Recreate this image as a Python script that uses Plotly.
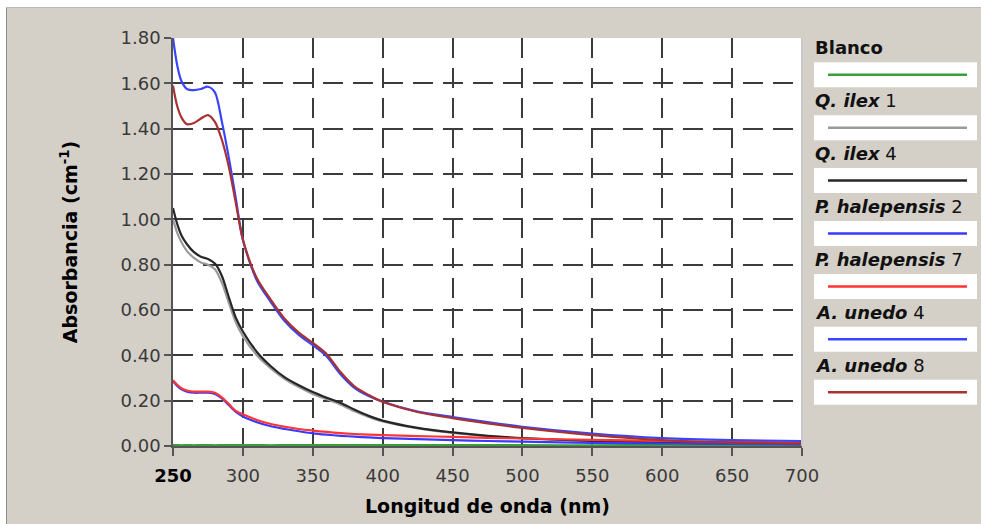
import plotly.graph_objects as go

# ---------------- data ----------------
wavelength = [250, 253, 256, 260, 265, 270, 275, 280, 285, 290, 295, 300, 310, 320, 330,
              340, 350, 360, 370, 380, 390, 400, 425, 450, 475, 500, 550, 600, 650, 700]

blanco = [0.004, 0.004, 0.003, 0.004, 0.003, 0.004, 0.004, 0.003, 0.004, 0.004, 0.004, 0.004,
          0.004, 0.003, 0.004, 0.004, 0.004, 0.004, 0.004, 0.004, 0.004, 0.004, 0.004, 0.004,
          0.004, 0.004, 0.003, 0.004, 0.004, 0.004]

q_ilex_1 = [1.00, 0.94, 0.90, 0.86, 0.83, 0.81, 0.80, 0.78, 0.72, 0.63, 0.545, 0.485, 0.40,
            0.342, 0.295, 0.26, 0.23, 0.206, 0.182, 0.153, 0.128, 0.108, 0.078, 0.058, 0.044,
            0.034, 0.021, 0.014, 0.010, 0.008]

q_ilex_4 = [1.05, 0.98, 0.93, 0.89, 0.855, 0.835, 0.825, 0.805, 0.75, 0.655, 0.565, 0.505, 0.415,
            0.352, 0.303, 0.268, 0.238, 0.213, 0.19, 0.16, 0.133, 0.112, 0.08, 0.06, 0.045, 0.035,
            0.022, 0.015, 0.010, 0.008]

p_halepensis_2 = [0.285, 0.265, 0.25, 0.24, 0.235, 0.235, 0.235, 0.23, 0.21, 0.18, 0.15, 0.13,
                  0.105, 0.087, 0.075, 0.065, 0.056, 0.05, 0.045, 0.041, 0.038, 0.035, 0.03,
                  0.026, 0.022, 0.019, 0.014, 0.011, 0.009, 0.008]

p_halepensis_7 = [0.29, 0.27, 0.255, 0.245, 0.24, 0.24, 0.24, 0.235, 0.215, 0.185, 0.155, 0.14,
                  0.115, 0.097, 0.085, 0.075, 0.068, 0.062, 0.057, 0.053, 0.05, 0.048, 0.044,
                  0.04, 0.036, 0.033, 0.027, 0.022, 0.018, 0.016]

a_unedo_4 = [1.80, 1.68, 1.61, 1.575, 1.57, 1.575, 1.585, 1.56, 1.43, 1.27, 1.09, 0.91, 0.73,
             0.635, 0.55, 0.49, 0.445, 0.395, 0.315, 0.255, 0.22, 0.195, 0.152, 0.128, 0.105,
             0.085, 0.055, 0.035, 0.026, 0.022]

a_unedo_8 = [1.59, 1.50, 1.45, 1.42, 1.425, 1.445, 1.46, 1.43, 1.35, 1.23, 1.07, 0.91, 0.74,
             0.645, 0.56, 0.50, 0.455, 0.405, 0.325, 0.262, 0.225, 0.195, 0.15, 0.123, 0.10,
             0.08, 0.048, 0.026, 0.015, 0.012]

series_names = ["Blanco", "Q. ilex 1", "Q. ilex 4", "P. halepensis 2",
                "P. halepensis 7", "A. unedo 4", "A. unedo 8"]
legend_labels = ["<b>Blanco</b>",
                 "<b><i>Q. ilex</i></b> 1",
                 "<b><i>Q. ilex</i></b> 4",
                 "<b><i>P. halepensis</i></b> 2",
                 "<b><i>P. halepensis</i></b> 7",
                 "<b><i>A. unedo</i></b> 4",
                 "<b><i>A. unedo</i></b> 8"]
series_values = [blanco, q_ilex_1, q_ilex_4, p_halepensis_2, p_halepensis_7, a_unedo_4, a_unedo_8]
series_colors = ["#3a9e3a", "#9a9a9a", "#262626", "#3a3aff", "#ff3535", "#3a44ff", "#a83232"]

x_ticks = [250, 300, 350, 400, 450, 500, 550, 600, 650, 700]
x_ticktext = ["<span style='color:#000000'><b>250</b></span>", "300", "350", "400", "450",
              "500", "550", "600", "650", "700"]
y_ticks = [0.0, 0.2, 0.4, 0.6, 0.8, 1.0, 1.2, 1.4, 1.6, 1.8]

# ---------------- layout helpers (pixel -> paper) ----------------
W, H = 981, 524
PL, PT, PW, PH = 173, 38, 629, 408


def fx(px):
    return (px - PL) / PW


def fy(py):
    return (PT + PH - py) / PH


fig = go.Figure()
for name, vals, col in zip(series_names, series_values, series_colors):
    fig.add_trace(go.Scatter(x=wavelength, y=vals, name=name, mode="lines",
                             line=dict(color=col, width=2.2, shape="spline", smoothing=0.8),
                             showlegend=False))

shapes = []
annotations = []

# window-like frame
shapes.append(dict(type="rect", xref="paper", yref="paper", x0=fx(0), x1=fx(W), y0=fy(0), y1=fy(7),
                   fillcolor="white", line=dict(width=0)))
shapes.append(dict(type="rect", xref="paper", yref="paper", x0=fx(0), x1=fx(6), y0=fy(0), y1=fy(H),
                   fillcolor="white", line=dict(width=0)))
shapes.append(dict(type="line", xref="paper", yref="paper", x0=fx(6.5), x1=fx(6.5), y0=fy(7), y1=fy(H),
                   line=dict(color="#8c8c8c", width=1)))
shapes.append(dict(type="line", xref="paper", yref="paper", x0=fx(6), x1=fx(W), y0=fy(7.5), y1=fy(7.5),
                   line=dict(color="#b8b8b8", width=1)))
# light right edge of plot area
shapes.append(dict(type="line", xref="paper", yref="paper", x0=1, x1=1, y0=0, y1=1,
                   line=dict(color="#c8c8c8", width=2)))

# custom legend: label above a white box with a line sample
step = 52.9
for i, (lab, col) in enumerate(zip(legend_labels, series_colors)):
    bc = 74.8 + step * i
    annotations.append(dict(xref="paper", yref="paper", x=fx(813), y=fy(bc - 27), xanchor="left",
                            yanchor="middle", text=lab, showarrow=False,
                            font=dict(family="DejaVu Sans", size=18, color="#111")))
    shapes.append(dict(type="rect", xref="paper", yref="paper", x0=fx(814), x1=fx(977),
                       y0=fy(bc - 12.5), y1=fy(bc + 12.5), fillcolor="white", line=dict(width=0)))
    shapes.append(dict(type="line", xref="paper", yref="paper", x0=fx(828), x1=fx(967),
                       y0=fy(bc), y1=fy(bc), line=dict(color=col, width=2.5)))

tickfont = dict(family="DejaVu Sans", size=18, color="#3a3a3a")
titlefont = dict(family="DejaVu Sans", size=19, color="#000", weight="bold")

fig.update_layout(
    width=W, height=H,
    margin=dict(l=PL, r=W - PL - PW, t=PT, b=H - PT - PH, pad=0, autoexpand=False),
    paper_bgcolor="#d4d0c8", plot_bgcolor="white",
    shapes=shapes, annotations=annotations, showlegend=False,
    xaxis=dict(range=[250, 700], tickvals=x_ticks, ticktext=x_ticktext, tickfont=tickfont,
               showgrid=True, gridcolor="#3c3c3c", gridwidth=1.6, griddash="20px,10px",
               showline=True, linecolor="#555", linewidth=1.5, ticks="outside", ticklen=8,
               tickcolor="#555", tickwidth=1.5, zeroline=False, ticklabelstandoff=5,
               automargin=False,
               title=dict(text="Longitud de onda (nm)", font=titlefont, standoff=14)),
    yaxis=dict(range=[0, 1.8], tickvals=y_ticks, tickformat=".2f", tickfont=tickfont,
               showgrid=True, gridcolor="#3c3c3c", gridwidth=1.6, griddash="20px,10px",
               showline=True, linecolor="#555", linewidth=1.5, ticks="outside", ticklen=7,
               tickcolor="#555", tickwidth=1.5, zeroline=False, automargin=False,
               title=dict(text="Absorbancia (cm<sup>-1</sup>)", font=titlefont, standoff=38)),
)

fig.write_html("out.html")
